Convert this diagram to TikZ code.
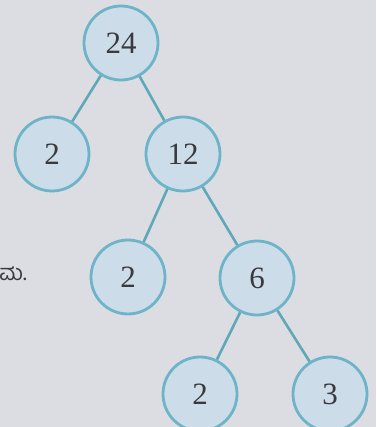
\documentclass[tikz,border=0pt]{standalone}
\usepackage{fontspec}
\setmainfont{Liberation Serif}
\newfontfamily\kanfont[Script=Kannada]{Hind Mysuru}
\usepackage{xcolor}
\definecolor{pagegrey}{HTML}{DCDDE2}
\definecolor{ballfill}{HTML}{CCDCE8}
\definecolor{balledge}{HTML}{6DB4C8}
\definecolor{stemteal}{HTML}{5FA8B8}
\definecolor{digitgrey}{HTML}{3A3A3E}
\usetikzlibrary{positioning}
\tikzset{
  fnode/.style={circle, draw=balledge, fill=ballfill, line width=2.8pt,
                minimum size=74pt, inner sep=0pt, text=digitgrey,
                font=\fontsize{31}{33}\selectfont},
  stem/.style={draw=stemteal, line width=2.6pt},
}

\begin{document}
\begin{tikzpicture}[x=1pt, y=-1pt]
  \fill[pagegrey] (0,0) rectangle (376,427);
  \useasboundingbox (0,0) rectangle (376,427);
  \node[fnode] (n24) at (121,43) {24};
  \node[fnode] (n2a) at (52,154) {2};
  \node[fnode] (n12) at (183,154) {12};
  \node[fnode] (n2b) at (128,277) {2};
  \node[fnode] (n6) at (257,278) {6};
  \node[fnode] (n2c) at (200,394) {2};
  \node[fnode] (n3) at (330,394) {3};
  \node[anchor=east, text=digitgrey, font=\kanfont\fontsize{22}{24}\selectfont,
        inner sep=0pt] (mark) at (27,274) {ಮ.};
  \draw[stem] (n24) -- (n2a);
  \draw[stem] (n24) -- (n12);
  \draw[stem] (n12) -- (n2b);
  \draw[stem] (n12) -- (n6);
  \draw[stem] (n6) -- (n2c);
  \draw[stem] (n6) -- (n3);
\end{tikzpicture}
\end{document}
